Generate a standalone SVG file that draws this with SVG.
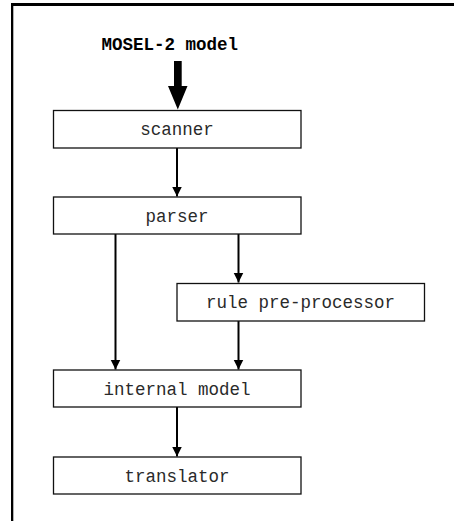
<svg xmlns="http://www.w3.org/2000/svg" width="454" height="521" viewBox="0 0 454 521">
  <style>
    .box { fill: #ffffff; stroke: #111111; stroke-width: 1.3; }
    .label { font-family: "Liberation Mono", "Courier New", monospace; font-size: 17.5px; fill: #2a2a2a; text-anchor: middle; }
    .title { font-family: "Liberation Mono", "Courier New", monospace; font-size: 17.5px; font-weight: bold; fill: #000000; }
    .link { stroke: #000000; stroke-width: 2; fill: none; marker-end: url(#head); }
  </style>
  <defs>
    <marker id="head" markerUnits="userSpaceOnUse" markerWidth="10" markerHeight="13" refX="10" refY="5" orient="auto">
      <path d="M0,0 L10,5 L0,10 Z" fill="#000000"/>
    </marker>
  </defs>

  <rect width="454" height="521" fill="#ffffff"/>

  <!-- frame: top and left rules -->
  <g id="frame" fill="#000000">
    <rect x="11" y="3" width="443" height="3"/>
    <rect x="11" y="3" width="2.3" height="518"/>
  </g>

  <!-- input label and thick entry arrow -->
  <g id="input">
    <text class="title" x="101.5" y="50">MOSEL-2 model</text>
    <path d="M174,61 H181.7 V86 H187.5 L177.8,109.5 L168,86 H174 Z" fill="#000000"/>
  </g>

  <g id="connectors">
    <line class="link" x1="177" y1="148" x2="177" y2="196.5"/>
    <line class="link" x1="115.5" y1="234" x2="115.5" y2="369.5"/>
    <line class="link" x1="238.5" y1="234" x2="238.5" y2="282.5"/>
    <line class="link" x1="238.5" y1="321" x2="238.5" y2="369.5"/>
    <line class="link" x1="177" y1="407" x2="177" y2="456.5"/>
  </g>

  <g id="scanner">
    <rect class="box" x="53.5" y="110.5" width="247.5" height="37.5"/>
    <text class="label" x="177" y="135">scanner</text>
  </g>

  <g id="parser">
    <rect class="box" x="53.5" y="197" width="247.5" height="37"/>
    <text class="label" x="177" y="222">parser</text>
  </g>

  <g id="rule-preprocessor">
    <rect class="box" x="177" y="283.5" width="247.5" height="37.5"/>
    <text class="label" x="300.5" y="308">rule pre-processor</text>
  </g>

  <g id="internal-model">
    <rect class="box" x="53.5" y="370" width="247.5" height="37"/>
    <text class="label" x="177" y="395">internal model</text>
  </g>

  <g id="translator">
    <rect class="box" x="53.5" y="457" width="247.5" height="37"/>
    <text class="label" x="177" y="482">translator</text>
  </g>
</svg>
